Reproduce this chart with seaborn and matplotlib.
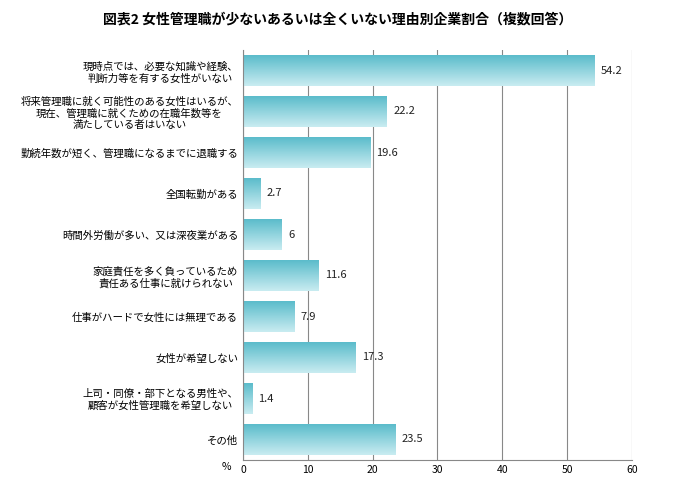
import numpy as np
import pandas as pd
import seaborn as sns
import matplotlib.pyplot as plt
from matplotlib.colors import LinearSegmentedColormap

plt.rcParams["font.family"] = "Noto Sans CJK JP"

reasons = [
    "現時点では、必要な知識や経験、\n判断力等を有する女性がいない",
    "将来管理職に就く可能性のある女性はいるが、\n現在、管理職に就くための在職年数等を\n満たしている者はいない",
    "勤続年数が短く、管理職になるまでに退職する",
    "全国転勤がある",
    "時間外労働が多い、又は深夜業がある",
    "家庭責任を多く負っているため\n責任ある仕事に就けられない",
    "仕事がハードで女性には無理である",
    "女性が希望しない",
    "上司・同僚・部下となる男性や、\n顧客が女性管理職を希望しない",
    "その他",
]
shares = [54.2, 22.2, 19.6, 2.7, 6, 11.6, 7.9, 17.3, 1.4, 23.5]
share_labels = ["54.2", "22.2", "19.6", "2.7", "6", "11.6", "7.9", "17.3", "1.4", "23.5"]

df = pd.DataFrame({"reason": reasons, "share": shares})

fig = plt.figure(figsize=(6.75, 5.0), dpi=100)
ax = fig.add_axes([0.36, 0.08, 0.576, 0.82])
sns.barplot(data=df, x="share", y="reason", color="#5BBCCB", width=0.75, ax=ax, zorder=2)

# gradient fill: teal on top fading to pale at the bottom
cmap = LinearSegmentedColormap.from_list("g", ["#5BBCCB", "#C9ECF1"])
grad = np.linspace(0, 1, 64).reshape(-1, 1)
for p in ax.patches:
    x0, y0 = p.get_x(), p.get_y()
    w, h = p.get_width(), p.get_height()
    p.set_facecolor("none")
    p.set_edgecolor("none")
    im = ax.imshow(grad, cmap=cmap, aspect="auto", extent=[x0, x0 + w, y0, y0 + h],
                   origin="lower", zorder=2)
    im.set_clip_path(p)

for i, (v, lab) in enumerate(zip(shares, share_labels)):
    ax.text(v + 1.0, i, lab, va="center", ha="left", fontsize=8, color="#222222")

ax.set_xlim(0, 60)
ax.set_ylim(len(reasons) - 0.5, -0.5)
ax.set_xticks(range(0, 61, 10))
ax.xaxis.grid(True, color="#888888", linewidth=0.8, zorder=0)
ax.set_axisbelow(True)
ax.set_xlabel("")
ax.set_ylabel("")
ax.tick_params(axis="both", labelsize=7.5, length=0)
for t in ax.get_yticklabels():
    t.set_multialignment("center")
for s in ["top", "right"]:
    ax.spines[s].set_visible(False)
ax.spines["left"].set_color("#888888")
ax.spines["bottom"].set_color("#888888")
fig.text(0.335, 0.075, "%", fontsize=7.5, ha="center", va="top")
fig.suptitle("図表2 女性管理職が少ないあるいは全くいない理由別企業割合（複数回答）",
             x=0.5, y=0.975, fontsize=10, fontweight="bold")

fig.savefig("out.png", dpi=100)
